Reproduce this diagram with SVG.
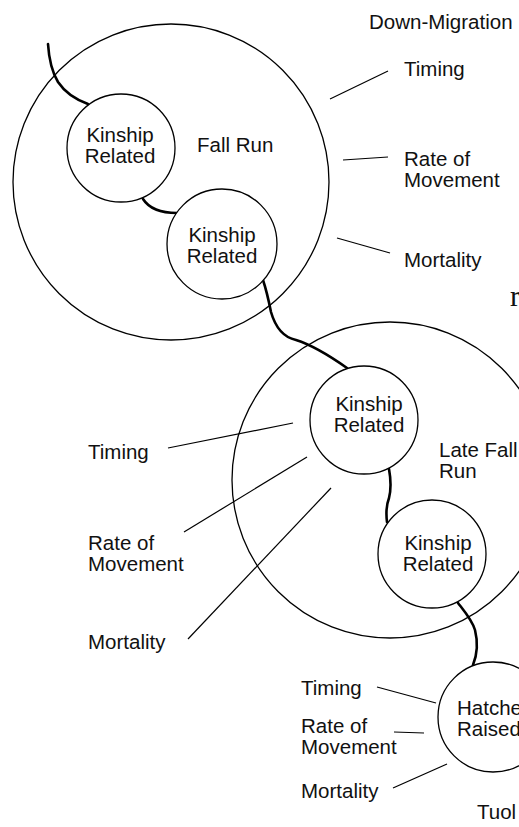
<svg xmlns="http://www.w3.org/2000/svg" width="519" height="827" viewBox="0 0 519 827">
<style>
.c{fill:none;stroke:#000;stroke-width:1.3}
.n{fill:#fff;stroke:#000;stroke-width:1.3}
.l{fill:none;stroke:#000;stroke-width:1.2}
.k{fill:none;stroke:#000;stroke-width:2.6;stroke-linecap:round}
text{font-family:"Liberation Sans",Arial,sans-serif;font-size:20.5px;fill:#111}
.m{text-anchor:middle}
</style>
<rect width="519" height="827" fill="#fff"/>
<g id="fall-run">
<circle class="c" cx="171" cy="182" r="158"/>
<text x="197" y="152">Fall Run</text>
</g>
<g id="late-fall-run">
<circle class="c" cx="390" cy="480" r="158"/>
<text x="439" y="457">Late Fall</text>
<text x="439" y="478">Run</text>
</g>
<g id="connectors">
<path class="k" d="M48,44 C49,60 52,72 58,82 C66,94 77,100 88,104"/>
<path class="k" d="M143,199 C150,210 162,213 177,213"/>
<path class="k" d="M263,280 C267,292 269,302 271,312 C275,326 282,337 296,340 C312,345 330,356 347,368"/>
<path class="k" d="M389,469 C391,480 391,490 389,498 C386,506 386,514 387,522"/>
<path class="k" d="M458,603 C465,612 472,620 475,630 C478,642 477,655 473,665"/>
<path class="l" d="M330,99 L388,71"/>
<path class="l" d="M343,160 L388,157"/>
<path class="l" d="M337,238 L390,253"/>
<path class="l" d="M168,448 L293,423"/>
<path class="l" d="M184,532 L307,457"/>
<path class="l" d="M188,639 L331,488"/>
<path class="l" d="M377,687 L436,703"/>
<path class="l" d="M394,732 L424,733"/>
<path class="l" d="M393,788 L447,764"/>
</g>
<g id="kinship-a">
<circle class="n" cx="121" cy="148" r="54"/>
<text class="m" x="120" y="142">Kinship</text>
<text class="m" x="120" y="163">Related</text>
</g>
<g id="kinship-b">
<circle class="n" cx="222" cy="244" r="55"/>
<text class="m" x="222" y="242">Kinship</text>
<text class="m" x="222" y="263">Related</text>
</g>
<g id="kinship-c">
<circle class="n" cx="364" cy="420" r="54"/>
<text class="m" x="369" y="411">Kinship</text>
<text class="m" x="369" y="432">Related</text>
</g>
<g id="kinship-d">
<circle class="n" cx="432" cy="554" r="54"/>
<text class="m" x="438" y="550">Kinship</text>
<text class="m" x="438" y="571">Related</text>
</g>
<g id="hatchery-raised">
<circle class="n" cx="493" cy="717" r="55"/>
<text x="457" y="715">Hatche</text>
<text x="457" y="736">Raised</text>
</g>
<g id="labels">
<text x="369" y="29">Down-Migration</text>
<text x="404" y="76">Timing</text>
<text x="404" y="166">Rate of</text>
<text x="404" y="187">Movement</text>
<text x="404" y="267">Mortality</text>
<text x="510" y="306" style="font-family:'Liberation Serif','Times New Roman',serif;font-size:30px">r</text>
<text x="88" y="459">Timing</text>
<text x="88" y="550">Rate of</text>
<text x="88" y="571">Movement</text>
<text x="88" y="649">Mortality</text>
<text x="301" y="695">Timing</text>
<text x="301" y="733">Rate of</text>
<text x="301" y="754">Movement</text>
<text x="301" y="798">Mortality</text>
<text x="477" y="819">Tuol</text>
</g>
</svg>
